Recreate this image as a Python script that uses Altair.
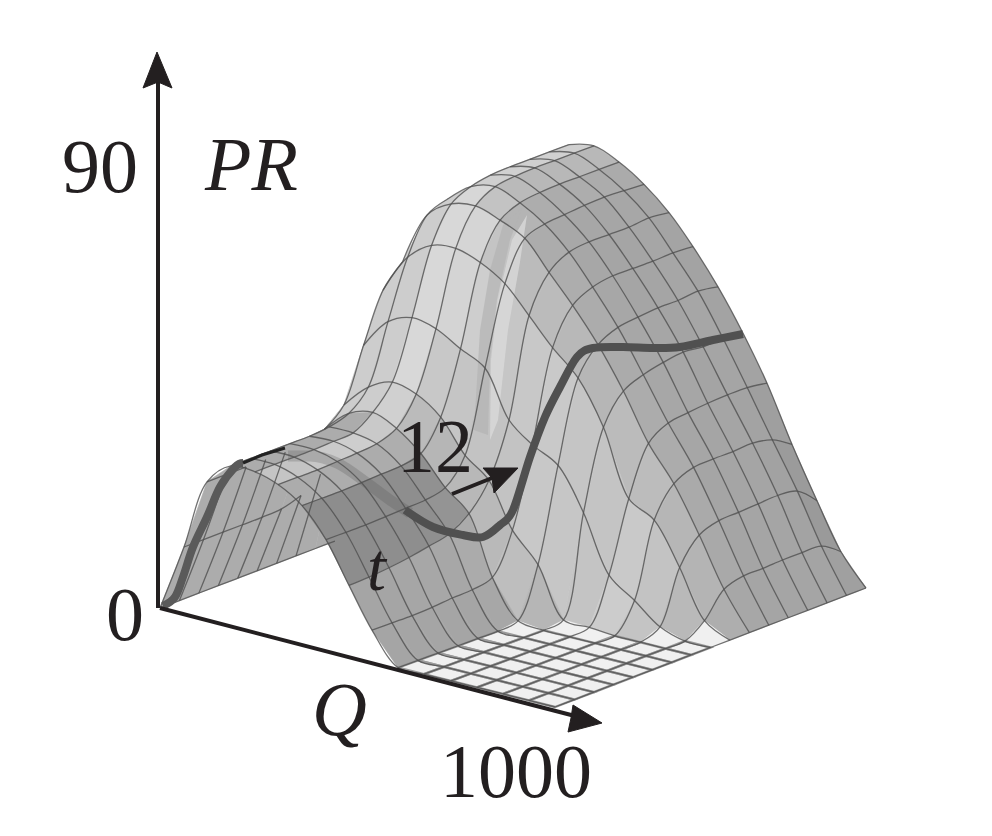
import math
import altair as alt
import pandas as pd

# surface height above the floor, one list per t line (t index 0..16), one value per Q line (0..16)
PR = [
 [0,67,138,160,160,153,138,110,70,31,0,0,0,0,0,0,0],
 [0,67,138,160,160,153,138,110,71,31,0,0,0,0,0,0,0],
 [0,67,138,160,160,153,138,110,73,31,0,0,0,0,0,0,0],
 [0,67,138,160,160,154,139,111,76,32,0,0,0,0,0,0,0],
 [0,67,138,160,161,155,140,112,80,34,0,0,0,0,0,0,0],
 [0,68,139,162,162,157,141,113,85,35,0,0,0,0,0,0,0],
 [0,74,146,168,175,165,146,118,98,40,3,0,0,0,0,0,0],
 [0,88,163,187,198,192,175,143,124,80,52,3,2,0,0,0,0],
 [0,122,215,245,255,250,236,223,177,158,144,103,47,28,8,0,0],
 [0,170,263,302,320,323,315,300,274,248,224,181,116,101,60,13,0],
 [0,200,284,337,354,358,350,338,310,283,250,210,164,130,85,37,0],
 [0,215,296,345,364,370,360,345,323,294,260,219,177,139,92,43,0],
 [0,222,303,347,368,373,363,347,326,298,263,224,180,140,93,43,0],
 [0,226,307,349,369,374,364,349,326,298,265,227,182,140,94,44,0],
 [0,228,310,350,369,374,364,350,326,298,265,225,183,141,95,44,0],
 [0,229,312,351,369,374,364,349,328,299,267,226,183,137,92,43,0],
 [0,230,313,352,369,374,364,348,326,298,264,224,180,125,75,30,0],
]
# where each Q line meets the near and the far edge of the floor
Q_near = [160,184,207,231,255,278,302,326,349,372,398,424,451,477,503,529,555]
Q_far = [471,496,520,545,569,594,619,644,669,693,718,743,767,792,817,841,866]

thick_x = [163,175,183,193,207,220,235,243]
thick_y = [606,597,577,547,517,487,467,463]
ghost_x = [288,310,337,367,390,410]
ghost_y = [456,456,463,483,500,513]
thick2_x = [405,433,463,483,500,513,530,545,560,577,593,623,653,680,713,743]
thick2_y = [510,527,535,537,525,510,457,417,387,357,348,347,348,347,340,334]
crest_x = [243,262,285]
crest_y = [463,455,448]

shadow_x = [522,510,497,490,488,474,480,490,503,522]
shadow_y = [208,240,300,360,435,430,330,270,225,208]
glint_x = [527,520,508,498,490,491,498,512,527]
glint_y = [215,262,330,420,440,360,300,240,215]

axis_lines = [
    ("v", [158, 158], [608, 80]),
    ("q", [160, 575], [608, 716]),
    ("a", [452, 497], [494, 476]),
]
heads = [
    ("hv", [157, 143, 158, 172, 157], [52, 88, 82, 88, 52]),
    ("hq", [602, 573, 571, 568, 602], [723, 705, 718, 732, 723]),
    ("ha", [518, 483, 492, 494, 518], [468, 468, 478, 493, 468]),
]
labels = ["90", "PR", "12", "t", "0", "Q", "1000"]
label_x = [62, 205, 397, 367, 106, 312, 440]
label_y = [192, 190, 472, 590, 640, 735, 797]
label_size = [76, 76, 76, 68, 76, 76, 76]
label_style = ["normal", "italic", "normal", "italic", "normal", "italic", "normal"]

N = 16


def node(k, m):
    f = m / N
    nx = Q_near[k] + (Q_far[k] - Q_near[k]) * f
    q = (nx - 160 - 311 * f) / 395
    base = 608 + 99 * q - 119 * f
    return nx, base - PR[m][k]


def height_top(k, m):
    return max(PR[m][k], PR[m][k + 1], PR[m + 1][k], PR[m + 1][k + 1])


def shade(k, m):
    dq = (PR[m][k + 1] + PR[m + 1][k + 1] - PR[m][k] - PR[m + 1][k]) / 2
    dt = (PR[m + 1][k] + PR[m + 1][k + 1] - PR[m][k] - PR[m][k + 1]) / 2
    if k <= 1 or (k < 4 and m < 6):
        g = 172
    elif k < 4:
        g = 205
    else:
        g = 245 - 80 * math.tanh(abs(dq) / 10) + 35 * math.tanh(dt / 50)
        g = min(g, 216)
        if m <= 5 and k in (6, 7):
            g -= 24
        if height_top(k, m) < 15:
            g = 240
    g = int(max(120, g))
    return f"#{g:02x}{g:02x}{g:02x}"


cells = [(k - m, k, m) for k in range(N) for m in range(N)]
cells.sort(key=lambda c: (c[0], -c[2]))
rank = {(k, m): i for i, (_, k, m) in enumerate(cells)}
polys = {}
rows = []
floor_rows = []
for _, k, m in cells:
    corners = [(k, m), (k + 1, m), (k + 1, m + 1), (k, m + 1), (k, m)]
    pts = [node(a, b) for a, b in corners]
    polys[(k, m)] = pts
    for i, (x, y) in enumerate(pts):
        rows.append({"x": x, "y": y, "cell": f"{k}-{m}", "i": i, "shade": shade(k, m)})
        if height_top(k, m) == 0:
            floor_rows.append({"x": x, "y": y, "cell": f"{k}-{m}", "i": i})
df = pd.DataFrame(rows)
floor_df = pd.DataFrame(floor_rows)


def inside(p, poly):
    x, y = p
    c = False
    for (x1, y1), (x2, y2) in zip(poly[:-1], poly[1:]):
        if (y1 > y) != (y2 > y) and x < x1 + (y - y1) * (x2 - x1) / (y2 - y1):
            c = not c
    return c


def visible(a, b, owners):
    r = max((rank[o] for o in owners if o in rank), default=-1)
    pa, pb = node(*a), node(*b)
    hits = 0
    for f in (0.25, 0.5, 0.75):
        p = (pa[0] + (pb[0] - pa[0]) * f, pa[1] + (pb[1] - pa[1]) * f)
        for c, poly in polys.items():
            if rank[c] > r and inside(p, poly):
                hits += 1
                break
    return hits < 2


mesh = []
run = 0


def trace(seq, owners_of):
    global run
    open_run = False
    for j in range(len(seq) - 1):
        a, b = seq[j], seq[j + 1]
        if visible(a, b, owners_of(a, b)):
            if not open_run:
                run += 1
                x, y = node(*a)
                mesh.append({"x": x, "y": y, "run": run, "i": j})
                open_run = True
            x, y = node(*b)
            mesh.append({"x": x, "y": y, "run": run, "i": j + 1})
        else:
            open_run = False


for m in range(N + 1):
    trace([(k, m) for k in range(N + 1)], lambda a, b: [(a[0], a[1]), (a[0], a[1] - 1)])
for k in range(N + 1):
    trace([(k, m) for m in range(N + 1)], lambda a, b: [(a[0], a[1]), (a[0] - 1, a[1])])
mesh_df = pd.DataFrame(mesh)

X = alt.X("x:Q", scale=alt.Scale(domain=[8, 984]), axis=None)
Y = alt.Y("y:Q", scale=alt.Scale(domain=[828, 8]), axis=None)

surface = alt.Chart(df).mark_line(strokeWidth=0.6, strokeJoin="round").encode(
    x=X, y=Y, detail="cell:N", order="i:Q",
    fill=alt.Fill("shade:N", scale=None), color=alt.Color("shade:N", scale=None),
)
floor_net = alt.Chart(floor_df).mark_line(stroke="#9a9a9a", strokeWidth=2.4).encode(
    x=X, y=Y, detail="cell:N", order="i:Q"
)
net = alt.Chart(mesh_df).mark_line(
    stroke="#4f4f4f", strokeWidth=1.3, strokeOpacity=0.8, interpolate="catmull-rom"
).encode(x=X, y=Y, detail="run:N", order="i:Q")


def path(xs, ys, **kw):
    d = pd.DataFrame({"x": xs, "y": ys, "i": range(len(xs))})
    return alt.Chart(d).mark_line(**kw).encode(x=X, y=Y, order="i:Q")


layers = [surface]
layers.append(path(shadow_x, shadow_y, stroke="#b0b0b0", strokeWidth=0, fill="#b4b4b4", fillOpacity=0.7))
layers.append(path(glint_x, glint_y, stroke="#dddddd", strokeWidth=0, fill="#dadada", fillOpacity=0.8))
layers.append(floor_net)
layers.append(net)
layers.append(path(ghost_x, ghost_y, stroke="#555555", strokeWidth=11, strokeOpacity=0.25, interpolate="monotone"))
layers.append(path(thick_x, thick_y, stroke="#5a5a5a", strokeWidth=8, interpolate="cardinal"))
layers.append(path(thick2_x, thick2_y, stroke="#505050", strokeWidth=8, interpolate="cardinal"))
layers.append(path(crest_x, crest_y, stroke="#222222", strokeWidth=3))
for _, xs, ys in axis_lines:
    layers.append(path(xs, ys, stroke="#231f20", strokeWidth=4))
for _, xs, ys in heads:
    layers.append(path(xs, ys, stroke="#231f20", strokeWidth=1, fill="#231f20"))
for t, x, y, s, st in zip(labels, label_x, label_y, label_size, label_style):
    d = pd.DataFrame({"x": [x], "y": [y], "t": [t]})
    layers.append(
        alt.Chart(d).mark_text(
            font="Liberation Serif", fontSize=s, fontStyle=st, align="left",
            baseline="alphabetic", color="#231f20",
        ).encode(x=X, y=Y, text="t:N")
    )

chart = alt.layer(*layers).properties(
    width=976, height=820, padding=0, background="white",
    autosize=alt.AutoSizeParams(type="none"),
).configure_view(stroke=None)

chart.save("out.html", embed_options={"renderer": "svg", "actions": False})
